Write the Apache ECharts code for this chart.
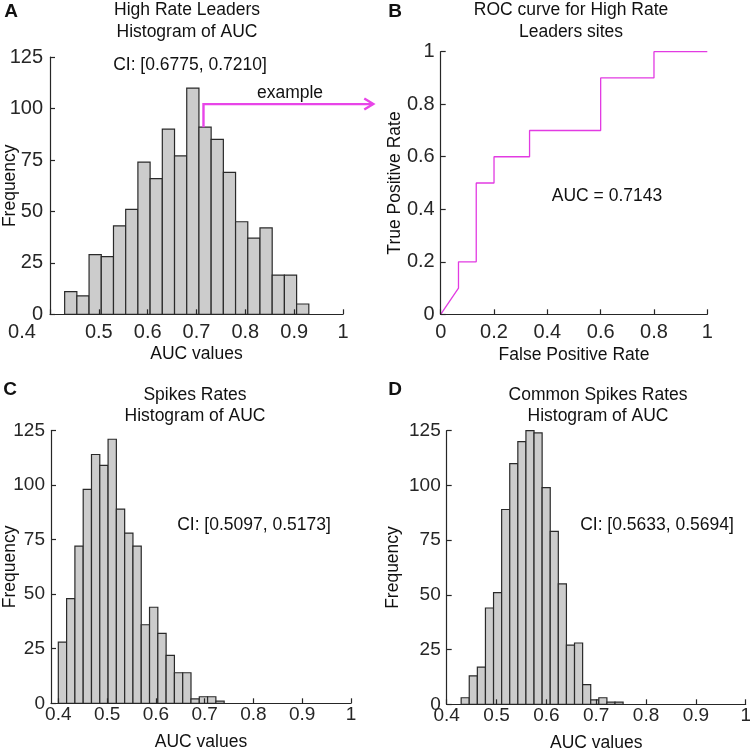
<!DOCTYPE html>
<html><head><meta charset="utf-8">
<script src="https://cdn.jsdelivr.net/npm/echarts@6/dist/echarts.min.js"></script>
<style>html,body{margin:0;padding:0;background:#fff}#c{width:750px;height:752px}</style>
</head><body><div id="c"></div>
<script>
// ---------- data ----------
// Panel A: High Rate Leaders, histogram of AUC
const histA_counts = [11, 9, 29, 28, 43, 51, 74, 66, 90, 77, 110, 91, 85, 69, 45, 37, 42, 19, 19, 5];
const histA_binStart = 0.43;
const histA_binWidth = 0.025;
// Panel B: ROC curve for High Rate Leaders sites
const rocFPR = [0, 0.0667, 0.0667, 0.1333, 0.1333, 0.2, 0.2, 0.3333, 0.3333, 0.6, 0.6, 0.8, 0.8, 1];
const rocTPR = [0, 0.1, 0.2, 0.2, 0.5, 0.5, 0.6, 0.6, 0.7, 0.7, 0.9, 0.9, 1, 1];
// Panel C: Spikes Rates, histogram of AUC
const histC_counts = [28, 48, 72, 98, 114, 109, 121, 89, 78, 72, 36, 44, 32, 22, 14, 14, 2, 3, 3, 1];
const histC_binStart = 0.40;
const histC_binWidth = 0.017;
// Panel D: Common Spikes Rates, histogram of AUC
const histD_counts = [3, 13, 17, 44, 51, 89, 110, 120, 125, 124, 99, 79, 55, 27, 28, 9, 2, 3, 1, 1];
const histD_binStart = 0.429;
const histD_binWidth = 0.01625;
// "example" arrow in panel A (from the bar holding AUC = 0.7143 toward panel B)
const arrowX = [0.7143, 0.7143, 1.062];
const arrowY = [91, 102.2, 102.2];
// tick values
const aucTicks = [0.4, 0.5, 0.6, 0.7, 0.8, 0.9, 1];
const freqTicks = [0, 25, 50, 75, 100, 125];
const rateTicks = [0, 0.2, 0.4, 0.6, 0.8, 1];
// texts
const titles = {
  A: ['High Rate Leaders', 'Histogram of AUC'],
  B: ['ROC curve for High Rate', 'Leaders sites'],
  C: ['Spikes Rates', 'Histogram of AUC'],
  D: ['Common Spikes Rates', 'Histogram of AUC']
};
const ciA = 'CI: [0.6775, 0.7210]';
const ciC = 'CI: [0.5097, 0.5173]';
const ciD = 'CI: [0.5633, 0.5694]';
const aucB = 'AUC = 0.7143';

// ---------- chart ----------
const FONT = '"Liberation Sans", Arial, Helvetica, sans-serif';
const AX = '#262626';
const MAG = '#e23be2';
const ARROW = '#e845e8';

function binsToData(start, width, counts) {
  return counts.map((c, i) => [start + i * width, start + (i + 1) * width, c]);
}
function histSeries(idx, start, width, counts) {
  return {
    type: 'custom', xAxisIndex: idx, yAxisIndex: idx,
    data: binsToData(start, width, counts),
    encode: { x: [0, 1], y: 2 },
    renderItem: function (params, api) {
      const p0 = api.coord([api.value(0), 0]);
      const p1 = api.coord([api.value(1), api.value(2)]);
      return {
        type: 'rect',
        shape: { x: p0[0], y: p1[1], width: p1[0] - p0[0], height: p0[1] - p1[1] },
        style: { fill: '#cccccc', stroke: '#2a2a2a', lineWidth: 1.2 }
      };
    },
    z: 2
  };
}
function axis(idx, min, max, ticks, name, nameGap, labelSize, margin) {
  return {
    gridIndex: idx, type: 'value', min: min, max: max,
    z: 10,
    axisLine: { show: true, onZero: false, lineStyle: { color: AX, width: 1.2 } },
    axisTick: { show: true, inside: true, length: 5, customValues: ticks, lineStyle: { color: AX, width: 1.2 } },
    axisLabel: { show: true, customValues: ticks, fontSize: labelSize, color: AX, fontFamily: FONT, margin: margin,
      formatter: v => String(+v.toFixed(4)) },
    splitLine: { show: false },
    name: name, nameLocation: 'middle', nameGap: nameGap, nameMoveOverlap: false,
    nameTextStyle: { fontSize: 17.5, color: '#111', fontFamily: FONT }
  };
}
function txt(x, y, s, size, weight) {
  return { type: 'text', x: x, y: y, silent: true,
    style: { text: s, fill: '#111', fontSize: size || 17.5, fontFamily: FONT, fontWeight: weight || 'normal',
      align: 'center', verticalAlign: 'middle' } };
}
function grid(l, t, w, h) {
  return { left: l, top: t, width: w, height: h, containLabel: false, outerBoundsMode: 'none' };
}

// panel A's x axis: in the figure the first label ("0.4") sits left of its tick
const xAxisA = axis(0, 0.4, 1, aucTicks, 'AUC values', 31, 20, 8);
xAxisA.axisLabel.formatter = v => (Math.abs(v - aucTicks[0]) < 1e-9 ? '{first|' + aucTicks[0] + '}' : String(+v.toFixed(4)));
xAxisA.axisLabel.rich = { first: { padding: [0, 56, 0, 0], fontSize: 20, color: AX, fontFamily: FONT } };

const baseGraphic = [
  txt(11, 12, 'A', 19, 'bold'),
  txt(395, 12, 'B', 19, 'bold'),
  txt(10, 390, 'C', 19, 'bold'),
  txt(395, 390, 'D', 19, 'bold'),
  txt(187, 10, titles.A[0]), txt(187, 32, titles.A[1]),
  txt(571, 10, titles.B[0]), txt(571, 32, titles.B[1]),
  txt(195, 395, titles.C[0]), txt(195, 416, titles.C[1]),
  txt(598, 395, titles.D[0]), txt(598, 416, titles.D[1]),
  txt(190, 65, ciA),
  txt(290, 93, 'example'),
  txt(607, 196, aucB),
  txt(254, 525, ciC),
  txt(657, 525, ciD)
];

const chart = echarts.init(document.getElementById('c'), null, { renderer: 'canvas' });
chart.setOption({
  backgroundColor: '#ffffff',
  animation: false,
  grid: [
    grid(50, 57.2, 293, 257.1),
    grid(440.7, 51.7, 266.6, 262.6),
    grid(51, 430.5, 300, 272.8),
    grid(446.7, 430.7, 299, 273.6)
  ],
  xAxis: [
    xAxisA,
    axis(1, 0, 1, rateTicks, 'False Positive Rate', 32, 20, 8),
    axis(2, 0.385, 1, aucTicks, 'AUC values', 30, 19, 2),
    axis(3, 0.4, 1, aucTicks, 'AUC values', 30, 19, 2)
  ],
  yAxis: [
    axis(0, 0, 125, freqTicks, 'Frequency', 31, 20, 7),
    axis(1, 0, 1, rateTicks, 'True Positive Rate', 37, 20, 6),
    axis(2, 0, 125, freqTicks, 'Frequency', 32, 19, 6),
    axis(3, 0, 125, freqTicks, 'Frequency', 45, 19, 6)
  ],
  series: [
    histSeries(0, histA_binStart, histA_binWidth, histA_counts),
    {
      type: 'line', xAxisIndex: 1, yAxisIndex: 1,
      data: rocFPR.map((x, i) => [x, rocTPR[i]]),
      showSymbol: false, symbol: 'none',
      lineStyle: { color: MAG, width: 1.3 }
    },
    histSeries(2, histC_binStart, histC_binWidth, histC_counts),
    histSeries(3, histD_binStart, histD_binWidth, histD_counts)
  ],
  graphic: baseGraphic
});

// arrow drawn through the axis scales of panel A
const pts = arrowX.map((x, i) => chart.convertToPixel({ gridIndex: 0 }, [x, arrowY[i]]));
const tip = pts[pts.length - 1];
chart.setOption({
  graphic: baseGraphic.concat([
    { type: 'polyline', silent: true, z: 50, shape: { points: pts },
      style: { stroke: ARROW, lineWidth: 2.4, fill: null } },
    { type: 'polyline', silent: true, z: 50,
      shape: { points: [[tip[0] - 9, tip[1] - 5.5], [tip[0], tip[1]], [tip[0] - 9, tip[1] + 5.5]] },
      style: { stroke: ARROW, lineWidth: 2.4, fill: null } }
  ])
});
</script></body></html>
